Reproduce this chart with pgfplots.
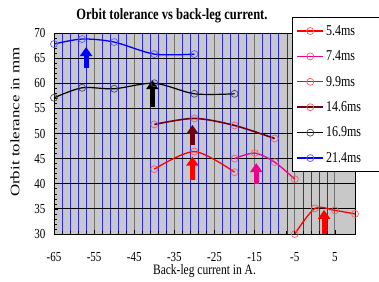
\documentclass[border=0pt]{standalone}
\usepackage{fontspec}
\setmainfont{Liberation Serif}
\usepackage{graphicx}
\usepackage{pgfplots}
\pgfplotsset{compat=1.18}
\usetikzlibrary{arrows.meta}
\definecolor{bg}{RGB}{200,200,200}
\definecolor{maroon}{RGB}{110,0,20}
\definecolor{lblue}{RGB}{90,90,255}
\newcommand{\vs}[1]{\scalebox{1}[1.25]{#1}}
\newcommand{\lent}[1]{\makebox[50pt][l]{\vs{#1}}}
\begin{document}
\begin{tikzpicture}
\begin{axis}[
 at={(0,0)}, anchor=south west,
 width=301pt, height=201pt, scale only axis,
 xmin=-65, xmax=10, ymin=30, ymax=70,
 clip=false,
 axis background/.style={fill=bg},
 xtick={-65,-55,...,5}, minor x tick num=4,
 ytick={30,35,...,70}, minor y tick num=4,
 xmajorgrids, xminorgrids, ymajorgrids,
 major x grid style={draw=black!55, line width=0.9pt},
 minor x grid style={draw=blue!85, line width=0.5pt},
 major y grid style={draw=black, line width=0.8pt},
 tick pos=left, tick align=inside,
 major tick length=4pt, minor tick length=3pt,
 tick style={black, line width=0.6pt},
 axis line style={black, line width=0.8pt},
 xticklabel={\vs{\pgfmathprintnumber[assume math mode=true]{\tick}}},
 yticklabel={\vs{\pgfmathprintnumber[assume math mode=true]{\tick}}},
 xticklabel style={font=\fontsize{11}{13}\selectfont, yshift=-15pt},
 yticklabel style={font=\fontsize{11}{13}\selectfont, xshift=-5pt},
 title={\vs{Orbit tolerance vs back-leg current.}},
 title style={font=\bfseries\fontsize{12.5}{14}\selectfont, at={(0.392,1.055)}, anchor=center},
 xlabel={\vs{Back-leg current in A.}},
 xlabel style={font=\fontsize{11.5}{13}\selectfont, at={(0.5,-0.185)}, anchor=center},
 ylabel={\scalebox{1.3}[1]{Orbit tolerance in mm}},
 ylabel style={font=\fontsize{13}{15}\selectfont, at={(-0.13,0.557)}, anchor=center},
 legend style={at={(0.791,1.08)}, anchor=north west, draw=black, line width=0.8pt,
   fill=white, font=\fontsize{12}{14}\selectfont, row sep=10pt,
   inner xsep=4pt, inner ysep=6pt, cells={anchor=west}},
 legend image code/.code={\draw[mark repeat=2,mark phase=2] plot coordinates {(0pt,0pt)(13pt,0pt)(26pt,0pt)};},
]
\addplot[red, line width=1.3pt, smooth, mark=o, mark size=3.5pt, mark options={solid, draw=red!65, line width=0.7pt}]
 coordinates {(-5,30.0) (0,35.1) (5,34.7) (10,34.0)};
\addlegendentry{\lent{5.4ms}}
\addplot[magenta, line width=1.3pt, smooth, mark=o, mark size=3.5pt, mark options={solid, draw=red!65, line width=0.7pt}]
 coordinates {(-20,45.0) (-15,46.1) (-10,44.3) (-5,40.9)};
\addlegendentry{\lent{7.4ms}}
\addplot[red, line width=1.3pt, smooth, mark=o, mark size=3.5pt, mark options={solid, draw=red!65, line width=0.7pt}]
 coordinates {(-40,42.9) (-30,46.4) (-20,42.3)};
\addlegendentry{\lent{9.9ms}}
\addplot[maroon, line width=1.6pt, smooth, mark=o, mark size=3.5pt, mark options={solid, draw=red!65, line width=0.7pt}]
 coordinates {(-40,51.8) (-30,53.0) (-20,51.6) (-10,49.0)};
\addlegendentry{\lent{14.6ms}}
\addplot[black, line width=1.2pt, smooth, mark=o, mark size=3.5pt, mark options={solid, draw=black!70, line width=0.7pt}]
 coordinates {(-65,57.1) (-58,59.1) (-50,58.9) (-40,60.0) (-30,57.9) (-20,57.9)};
\addlegendentry{\lent{16.9ms}}
\addplot[blue, line width=1.3pt, smooth, mark=o, mark size=3.5pt, mark options={solid, draw=lblue, line width=0.7pt}]
 coordinates {(-65,67.8) (-58,68.8) (-50,68.2) (-40,65.8) (-30,65.8)};
\addlegendentry{\lent{21.4ms}}
% block arrows
\addplot[blue, line width=5pt, -{Triangle[width=12pt,length=9pt]}, forget plot] coordinates {(-57,63.0) (-57,67.2)};
\addplot[black, line width=5pt, -{Triangle[width=12pt,length=9pt]}, forget plot] coordinates {(-40.5,55.3) (-40.5,60.6)};
\addplot[maroon, line width=5pt, -{Triangle[width=12pt,length=9pt]}, forget plot] coordinates {(-30.5,47.7) (-30.5,51.7)};
\addplot[red, line width=5pt, -{Triangle[width=12pt,length=9pt]}, forget plot] coordinates {(-30.5,40.8) (-30.5,45.4)};
\addplot[magenta, line width=5pt, -{Triangle[width=12pt,length=9pt]}, forget plot] coordinates {(-14.6,40.0) (-14.6,44.1)};
\addplot[red, line width=5pt, -{Triangle[width=12pt,length=9pt]}, forget plot] coordinates {(2.3,30.0) (2.3,34.8)};
\end{axis}
\pgfresetboundingbox
\path[use as bounding box] (-54pt,-47pt) rectangle (325pt,234pt);
\end{tikzpicture}
\end{document}
